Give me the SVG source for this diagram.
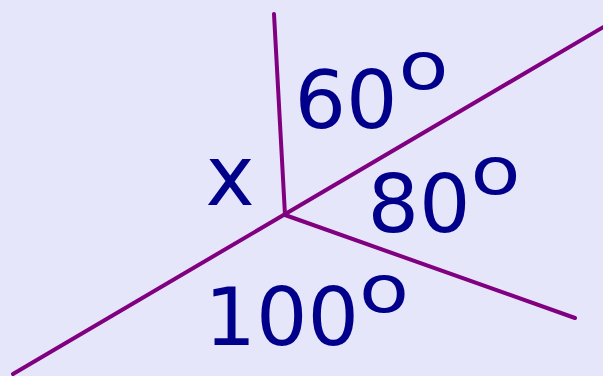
<svg xmlns="http://www.w3.org/2000/svg" width="603" height="376" viewBox="0 0 603 376">
<style>
.ln{stroke:#800080;stroke-width:4;stroke-linecap:round;fill:none}
.lb{fill:#00008B;font-family:"DejaVu Sans",Verdana,sans-serif;font-size:81px}
.deg{fill:#00008B;font-family:"DejaVu Sans",Verdana,sans-serif;font-size:66.5px}
</style>
<rect x="0" y="0" width="603" height="376" fill="#E6E6FA"/>
<g id="connectors">
<line class="ln" x1="274" y1="14" x2="285" y2="215"/>
<line class="ln" x1="13" y1="374" x2="612" y2="22"/>
<line class="ln" x1="285" y1="215" x2="575" y2="318"/>
</g>
<g id="label-x"><text class="lb" x="205.5" y="205" style="font-size:83px">x</text></g>
<g id="label-60"><text class="lb" x="294.5" y="127.5">60</text><text class="deg" transform="translate(398.5,89.2) scale(1.23,1)">o</text></g>
<g id="label-80"><text class="lb" x="367.5" y="231.5">80</text><text class="deg" transform="translate(470.5,194.2) scale(1.23,1)">o</text></g>
<g id="label-100"><text class="lb" x="204.5" y="344.5">100</text><text class="deg" transform="translate(359,312.2) scale(1.23,1)">o</text></g>
</svg>
